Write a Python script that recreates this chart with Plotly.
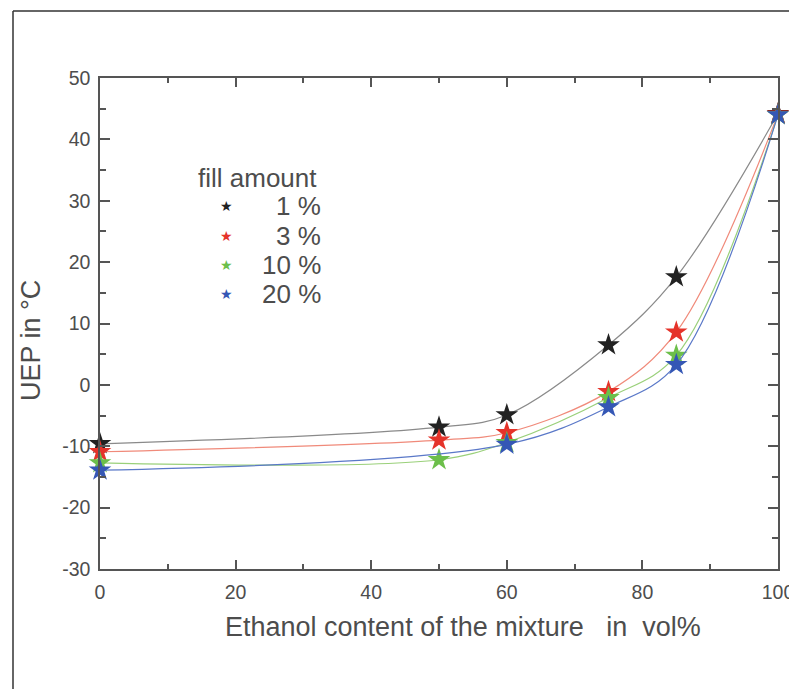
import plotly.graph_objects as go

# ---- data ----
ethanol = [0, 50, 60, 75, 85, 100]
uep_1 = [-9.6, -6.9, -4.9, 6.5, 17.6, 44.2]
uep_3 = [-10.9, -9.0, -7.8, -1.1, 8.6, 44.1]
uep_10 = [-12.7, -12.2, -9.4, -2.1, 4.8, 44.0]
uep_20 = [-13.9, None, -9.7, -3.6, 3.3, 44.0]
series_names = ["1 %", "3 %", "10 %", "20 %"]
legend_title = "fill amount"
marker_colors = ["#222222", "#e5332a", "#6cbf4a", "#3557b5"]
line_colors = ["#8a8a8a", "#f08a7a", "#9ad07a", "#5a78c8"]
x_tickvals = [0, 20, 40, 60, 80, 100]
x_ticktext = ["0", "20", "40", "60", "80", "100"]
y_tickvals = [-30, -20, -10, 0, 10, 20, 30, 40, 50]
y_ticktext = ["-30", "-20", "-10", "0", "10", "20", "30", "40", "50"]
x_title = "Ethanol content of the mixture\u00a0\u00a0\u00a0in\u00a0\u00a0vol%"
y_title = "UEP in °C"

FONT = "Liberation Sans, Arial, Helvetica, sans-serif"
TXT = "#4d4d4d"
AX = "#555555"

# page-pixel geometry of the plot area (body has an 8px margin)
PL, PR, PT, PB = 100, 778, 78, 569
def px(xp):
    return (xp - PL) / (PR - PL)
def py(yp):
    return (PB - yp) / (PB - PT)

fig = go.Figure()
for vals, name, mc, lc in zip([uep_1, uep_3, uep_10, uep_20], series_names, marker_colors, line_colors):
    xs = [x for x, v in zip(ethanol, vals) if v is not None]
    ys = [v for v in vals if v is not None]
    fig.add_trace(go.Scatter(
        x=xs, y=ys, mode="lines+markers", name=name, showlegend=False,
        line=dict(color=lc, width=1.2, shape="spline", smoothing=1.0),
        marker=dict(symbol="star", size=17, color=mc, line=dict(width=0)),
        cliponaxis=False,
    ))

annotations = [
    dict(text=x_title, xref="paper", yref="paper", x=px(463), y=py(627),
         xanchor="center", yanchor="middle", showarrow=False,
         font=dict(size=27, color=TXT, family=FONT)),
    dict(text=y_title, xref="paper", yref="paper", x=px(31), y=py(341),
         xanchor="center", yanchor="middle", showarrow=False, textangle=-90,
         font=dict(size=27, color=TXT, family=FONT)),
    dict(text=legend_title, xref="paper", yref="paper", x=px(257), y=py(178),
         xanchor="center", yanchor="middle", showarrow=False,
         font=dict(size=26, color=TXT, family=FONT)),
]
row_y = [206, 236, 265, 294]
for name, mc, ry in zip(series_names, marker_colors, row_y):
    annotations.append(dict(text=name, xref="paper", yref="paper", x=px(323), y=py(ry),
                            xanchor="right", yanchor="middle", showarrow=False,
                            font=dict(size=26, color=TXT, family=FONT)))
    annotations.append(dict(text="★", xref="paper", yref="paper", x=px(226), y=py(ry),
                            xanchor="center", yanchor="middle", showarrow=False,
                            font=dict(size=14, color=mc, family="DejaVu Sans")))

fig.update_layout(
    width=789, height=681,
    margin=dict(l=92, r=19, t=70, b=120),
    paper_bgcolor="white", plot_bgcolor="white",
    font=dict(family=FONT, color=TXT, size=19.5),
    showlegend=False,
    xaxis=dict(
        range=[0, 100], tickmode="array", tickvals=x_tickvals, ticktext=x_ticktext,
        showline=True, linecolor=AX, linewidth=1.5, mirror="ticks",
        ticks="inside", ticklen=9, tickwidth=1.5, tickcolor=AX,
        minor=dict(ticks="inside", dtick=10, ticklen=5, tickwidth=1.5, tickcolor=AX),
        showgrid=False, zeroline=False, automargin=False,
        tickfont=dict(size=19.5, color=TXT), ticklabelstandoff=5,
    ),
    yaxis=dict(
        range=[-30, 50], tickmode="array", tickvals=y_tickvals, ticktext=y_ticktext,
        showline=True, linecolor=AX, linewidth=1.5, mirror="ticks",
        ticks="inside", ticklen=10, tickwidth=1.5, tickcolor=AX,
        minor=dict(ticks="inside", dtick=5, ticklen=6, tickwidth=1.5, tickcolor=AX),
        showgrid=False, zeroline=False, automargin=False,
        tickfont=dict(size=19.5, color=TXT), ticklabelstandoff=4,
    ),
    annotations=annotations,
    shapes=[
        dict(type="line", xref="paper", yref="paper",
             x0=px(13), x1=px(13), y0=py(11), y1=py(720),
             line=dict(color="#333333", width=1.5)),
        dict(type="line", xref="paper", yref="paper",
             x0=px(13), x1=px(790), y0=py(11), y1=py(11),
             line=dict(color="#333333", width=1.5)),
    ],
)

fig.write_html("out.html")
